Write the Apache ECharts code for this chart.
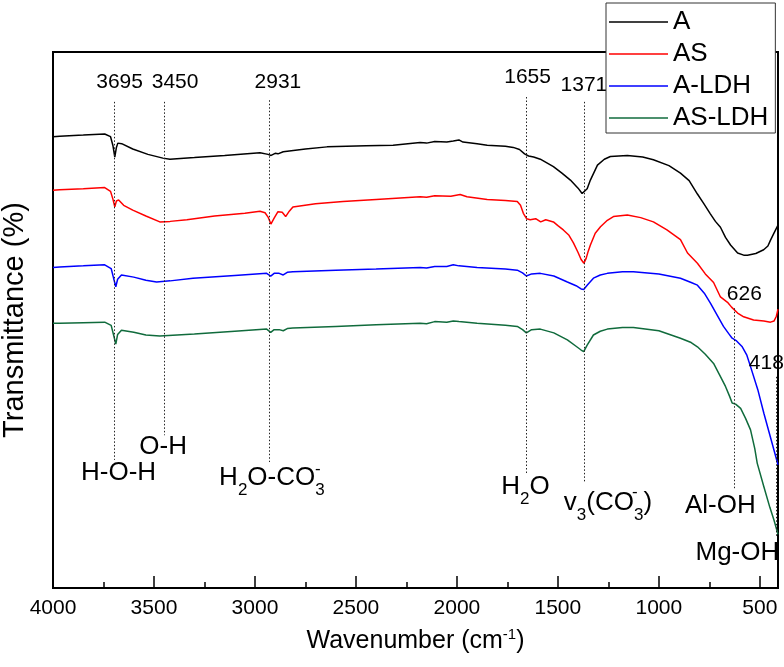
<!DOCTYPE html>
<html>
<head>
<meta charset="utf-8">
<script src="https://cdn.jsdelivr.net/npm/echarts@6/dist/echarts.min.js"></script>
<style>
  html, body { margin: 0; padding: 0; background: #fff; }
  #chart { width: 784px; height: 667px; }
</style>
</head>
<body>
<div id="chart"></div>
<script>
// FTIR spectra, [wavenumber (cm-1), transmittance (a.u.)]
const specA = [[4000,84.2],[3967,84.3],[3850,84.5],[3744,84.7],[3715,84.2],[3703,82.5],[3694,80.4],[3686,82.2],[3679,83.0],[3660,82.9],[3605,81.9],[3530,80.9],[3456,80.2],[3421,80.0],[3300,80.3],[3150,80.7],[2975,81.2],[2935,80.9],[2920,80.7],[2900,81.1],[2886,81.0],[2860,81.4],[2750,81.9],[2643,82.3],[2450,82.5],[2316,82.6],[2182,83.1],[2150,83.0],[2110,83.3],[2050,83.2],[2018,83.4],[1990,83.6],[1970,83.2],[1900,82.9],[1850,82.6],[1760,82.4],[1721,82.2],[1690,81.8],[1665,81.0],[1645,80.6],[1620,80.4],[1587,80.0],[1522,78.6],[1480,77.4],[1438,76.1],[1400,74.6],[1380,73.6],[1371,73.3],[1355,74.5],[1339,76.1],[1304,78.9],[1270,80.0],[1240,80.5],[1156,80.7],[1080,80.4],[1027,79.9],[950,78.8],[893,77.4],[850,76.0],[809,73.5],[779,71.8],[745,69.8],[720,68.4],[695,67.3],[670,65.4],[645,64.0],[610,62.5],[580,62.1],[561,62.1],[520,62.4],[481,63.1],[460,63.8],[447,64.9],[430,66.2],[410,67.7]];
const specAS = [[4000,74.2],[3967,74.3],[3850,74.5],[3744,74.7],[3715,74.0],[3703,72.5],[3694,71.1],[3686,72.2],[3675,72.4],[3650,71.4],[3605,70.5],[3540,69.4],[3471,68.3],[3420,68.4],[3337,68.7],[3200,69.4],[3050,69.9],[2975,70.3],[2950,70.0],[2935,69.2],[2921,67.9],[2905,69.0],[2886,70.2],[2865,70.1],[2848,69.3],[2830,70.3],[2812,71.1],[2700,71.7],[2564,72.1],[2400,72.5],[2182,73.0],[2150,72.9],[2110,73.2],[2030,73.1],[1984,73.4],[1950,73.0],[1850,72.5],[1760,72.3],[1701,72.1],[1685,71.4],[1671,69.9],[1655,68.9],[1637,68.7],[1610,68.9],[1585,68.3],[1560,68.7],[1522,68.3],[1500,67.6],[1473,66.8],[1445,65.8],[1423,64.4],[1400,62.6],[1385,61.3],[1371,60.6],[1360,61.5],[1350,62.8],[1339,64.0],[1315,66.2],[1289,67.4],[1255,68.6],[1225,69.3],[1156,69.6],[1090,69.1],[1027,68.3],[960,66.8],[893,65.0],[858,62.5],[809,60.6],[770,58.6],[729,57.0],[695,54.3],[660,53.3],[640,52.4],[610,51.3],[580,50.6],[531,50.0],[480,49.8],[447,49.6],[430,49.8],[418,50.7],[410,52.0]];
const specALDH = [[4000,59.8],[3967,59.9],[3850,60.1],[3744,60.3],[3712,59.6],[3700,57.8],[3689,56.2],[3680,57.6],[3661,58.4],[3600,58.0],[3540,57.4],[3487,57.1],[3420,57.3],[3307,57.8],[3100,58.3],[2942,58.7],[2922,58.2],[2905,58.7],[2880,58.7],[2860,58.4],[2840,58.9],[2812,59.0],[2600,59.3],[2400,59.5],[2182,59.8],[2150,59.7],[2110,60.0],[2050,60.0],[2018,60.3],[1990,60.1],[1900,59.8],[1760,59.5],[1701,59.3],[1675,58.8],[1656,58.2],[1630,58.6],[1587,58.7],[1520,58.2],[1453,57.1],[1410,56.4],[1385,55.8],[1372,55.7],[1355,56.5],[1324,57.8],[1290,58.4],[1255,58.7],[1180,59.0],[1126,59.0],[1000,58.6],[893,57.8],[840,57.0],[809,56.5],[775,55.0],[744,53.1],[710,50.8],[680,48.8],[655,47.5],[637,46.6],[615,46.1],[587,45.0],[565,43.5],[546,41.3],[510,37.0],[480,32.6],[445,27.8],[410,23.0]];
const specASLDH = [[4000,49.4],[3967,49.4],[3850,49.5],[3744,49.6],[3712,49.0],[3700,47.2],[3689,45.5],[3680,47.3],[3661,48.1],[3600,47.7],[3540,47.2],[3471,47.0],[3300,47.4],[3100,47.9],[2942,48.3],[2922,47.7],[2905,48.2],[2880,48.2],[2860,48.0],[2840,48.4],[2812,48.5],[2600,48.8],[2400,49.1],[2182,49.4],[2150,49.3],[2110,49.7],[2050,49.6],[2018,49.8],[1990,49.7],[1900,49.4],[1760,49.0],[1701,48.8],[1675,48.2],[1656,47.6],[1630,48.2],[1587,48.3],[1520,47.6],[1453,46.3],[1410,45.1],[1385,44.4],[1372,44.1],[1355,45.3],[1324,47.2],[1290,47.9],[1255,48.3],[1180,48.6],[1126,48.6],[1000,48.0],[893,46.6],[840,45.8],[809,45.0],[770,43.6],[729,41.9],[700,39.8],[670,37.6],[650,35.8],[637,34.5],[620,34.3],[595,33.5],[570,31.6],[546,29.5],[525,26.0],[513,23.3],[480,18.9],[450,15.0],[430,12.7],[410,10.0]];

const seriesNames = ['A', 'AS', 'A-LDH', 'AS-LDH'];
const seriesColors = ['#000000', '#ff0000', '#0000ff', '#106b3c'];
const seriesData = [specA, specAS, specALDH, specASLDH];

const majorTicks = [4000, 3500, 3000, 2500, 2000, 1500, 1000, 500];
const minorTicks = [3750, 3250, 2750, 2250, 1750, 1250, 750];

// peak annotations
const peaks = [3695, 3450, 2931, 1655, 1371, 626, 418];
const peakLineTop = [90.7, 90.7, 91.0, 91.6, 90.7, 52.2, 39.4];
const peakLineBottom = [23.9, 28.5, 23.5, 21.1, 19.8, 18.3, 9.5];
const peakNumberY = [94.4, 94.4, 94.4, 95.3, 93.8, 54.9, 42.0];
const peakNumberDx = [5, 11, 9, 1, 0, 10, -10];
const bondLabels = ['H-O-H', 'O-H', 'H{s|2}O-CO{s|3}', 'H{s|2}O', 'v{s|3}(CO{s|3})', 'Al-OH', 'Mg-OH'];
const bondLabelY = [21.5, 26.4, 20.5, 18.8, 15.9, 15.3, 6.5];
const bondLabelDx = [4, -1, 3, -1, 24, -14, -39];
const chargeAt = [2931, 1371];
const chargeY = [22.2, 17.8];
const chargeDx = [49, 51];

const FONT = 'Liberation Sans, Arial, sans-serif';
const chart = echarts.init(document.getElementById('chart'));

const subRich = {
  s: { fontSize: 17, lineHeight: 17, verticalAlign: 'top', padding: [17, 0, 0, 0], fontFamily: FONT, color: '#000' },
};

const markPoints = [
  ...peaks.map((p, i) => ({
    coord: [p, peakNumberY[i]],
    label: { formatter: String(p), offset: [peakNumberDx[i], 0], fontSize: 21 },
  })),
  ...peaks.map((p, i) => ({
    coord: [p, bondLabelY[i]],
    label: { formatter: bondLabels[i], offset: [bondLabelDx[i], 0], fontSize: 26, lineHeight: 26, rich: subRich },
  })),
  ...chargeAt.map((p, i) => ({
    coord: [p, chargeY[i]],
    label: { formatter: '-', offset: [chargeDx[i], 0], fontSize: 17 },
  })),
];

const series = seriesNames.map((name, i) => ({
  name,
  type: 'line',
  data: seriesData[i],
  symbol: 'none',
  lineStyle: { color: seriesColors[i], width: 1.5 },
  itemStyle: { color: seriesColors[i] },
  z: 3,
}));

series[0].markLine = {
  silent: true,
  symbol: ['none', 'none'],
  label: { show: false },
  lineStyle: { color: '#222', type: [1.5, 2], width: 1 },
  data: peaks.map((p, i) => [{ coord: [p, peakLineTop[i]] }, { coord: [p, peakLineBottom[i]] }]),
};
series[0].markPoint = {
  silent: true,
  symbol: 'circle',
  symbolSize: 1,
  itemStyle: { color: 'rgba(0,0,0,0)' },
  label: { show: true, position: 'inside', color: '#000', fontFamily: FONT },
  data: markPoints,
};

chart.setOption({
  animation: false,
  backgroundColor: '#fff',
  textStyle: { fontFamily: FONT },
  grid: {
    left: 53, right: 6, top: 52, bottom: 79,
    outerBoundsMode: 'none',
    containLabel: false,
    show: true, borderColor: '#000', borderWidth: 2,
  },
  legend: {
    data: seriesNames,
    orient: 'vertical',
    left: 606,
    top: 3,
    padding: [6, 7, 2, 3],
    icon: 'rect',
    itemWidth: 59,
    itemHeight: 1.5,
    itemGap: 6,
    backgroundColor: '#fff',
    borderColor: '#333',
    borderWidth: 1,
    textStyle: { fontSize: 26, lineHeight: 26, color: '#000', fontFamily: FONT },
    z: 10,
  },
  xAxis: [
    {
      type: 'value',
      inverse: true,
      min: 410,
      max: 4000,
      name: 'Wavenumber (cm{p|-1})',
      nameLocation: 'middle',
      nameGap: 39,
      nameTextStyle: {
        fontSize: 25, color: '#000', fontFamily: FONT, lineHeight: 28,
        rich: { p: { fontSize: 15, lineHeight: 15, verticalAlign: 'top', color: '#000', fontFamily: FONT } },
      },
      axisLine: { show: true, lineStyle: { color: '#000', width: 2 } },
      axisTick: { show: true, inside: true, length: 12, customValues: majorTicks, lineStyle: { color: '#000', width: 1.5 } },
      axisLabel: {
        show: true, customValues: majorTicks, fontSize: 21, color: '#000', margin: 10, fontFamily: FONT,
        formatter: (v) => String(v),
      },
      splitLine: { show: false },
    },
    {
      type: 'value',
      inverse: true,
      min: 410,
      max: 4000,
      position: 'bottom',
      axisLine: { show: false },
      axisTick: { show: true, inside: true, length: 6, customValues: minorTicks, lineStyle: { color: '#000', width: 1.5 } },
      axisLabel: { show: false },
      splitLine: { show: false },
    },
  ],
  yAxis: {
    type: 'value',
    min: 0,
    max: 100,
    name: 'Transmittance (%)',
    nameLocation: 'middle',
    nameGap: 24,
    nameTextStyle: { fontSize: 29, color: '#000', fontFamily: FONT, padding: [0, 0, 0, 0] },
    axisLine: { show: true, lineStyle: { color: '#000', width: 2 } },
    axisTick: { show: false },
    axisLabel: { show: false },
    splitLine: { show: false },
  },
  series,
});
</script>
</body>
</html>
